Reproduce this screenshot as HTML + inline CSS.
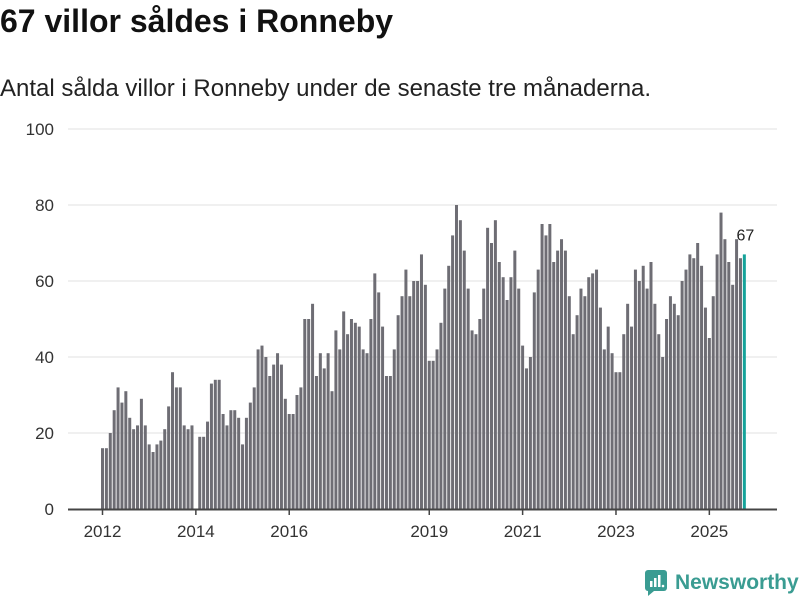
<!DOCTYPE html>
<html><head><meta charset="utf-8"><style>
body{margin:0;background:#fff;font-family:"Liberation Sans","DejaVu Sans",sans-serif;}
#wrap{position:relative;width:800px;height:600px;overflow:hidden}
h1{position:absolute;left:0;top:3px;margin:0;font-size:32px;font-weight:bold;color:#111}
.sub{position:absolute;left:0;top:75px;font-size:24px;color:#222}
</style></head><body>
<div id="wrap">
<h1>67 villor såldes i Ronneby</h1>
<div class="sub">Antal sålda villor i Ronneby under de senaste tre månaderna.</div>
<svg id="chart" width="800" height="600" style="position:absolute;left:0;top:0"></svg>
<div style="position:absolute;left:645px;top:570px;display:flex;align-items:center">
<svg width="22" height="26"><rect x="0" y="0" width="22" height="21" rx="3" fill="#3a9c92"/><polygon points="3,21 9,21 3,26" fill="#3a9c92"/><rect x="5" y="11" width="2.5" height="6" fill="#fff"/><rect x="9" y="8" width="2.5" height="9" fill="#fff"/><rect x="13" y="5" width="2.5" height="12" fill="#fff"/><circle cx="18" cy="16" r="1.3" fill="#fff"/></svg>
<span style="margin-left:8px;font-size:21px;color:#3a9c92;font-weight:bold">Newsworthy</span></div>
</div>
<script>
const startYear = 2012;
const values = [16,16,20,26,32,28,31,24,21,22,29,22,
17,15,17,18,21,27,36,32,32,22,21,22,
0,19,19,23,33,34,34,25,22,26,26,24,
17,24,28,32,42,43,40,35,38,41,38,29,
25,25,30,32,50,50,54,35,41,37,41,31,
47,42,52,46,50,49,48,42,41,50,62,57,
48,35,35,42,51,56,63,56,60,60,67,59,
39,39,42,49,58,64,72,80,76,68,58,47,
46,50,58,74,70,76,65,61,55,61,68,58,
43,37,40,57,63,75,72,75,65,68,71,68,
56,46,51,58,56,61,62,63,53,42,48,41,
36,36,46,54,48,63,60,64,58,65,54,46,
40,50,56,54,51,60,63,67,66,70,64,53,
45,56,67,78,71,65,59,71,66,67];
const yTicks = [0,20,40,60,80,100];
const xTickYears = [2012,2014,2016,2019,2021,2023,2025];
const NS="http://www.w3.org/2000/svg", svg=document.getElementById('chart');
const y0=509, yTop=129, x0=102.5, step=3.89;
const y=v=>y0-(v/100)*(y0-yTop);
const x=i=>x0+i*step;
function mk(t,a){const e=document.createElementNS(NS,t);for(const k in a)e.setAttribute(k,a[k]);svg.appendChild(e);return e;}
yTicks.forEach(v=>{
  if(v>0){const g=mk('line',{x1:68,x2:777,y1:y(v),y2:y(v),stroke:'#e2e2e2','stroke-width':1});
  
  }
  const t=mk('text',{x:54,y:y(v)+6,'text-anchor':'end','font-size':17,fill:'#333'});
  t.textContent=v;
  
  
});
values.forEach((v,i)=>{
  const last=i===values.length-1;
  const r=mk('rect',{x:x(i)-1.5,y:y(v),width:3,height:y0-y(v),fill:last?'#15a39a':'#6e6d74'});
  
  
  if(last){const t=mk('text',{x:x(i)+1,y:y(v)-14,'text-anchor':'middle','font-size':16,fill:'#222'});
  t.textContent=v;
  
  }
});
const ax=mk('line',{x1:68,x2:777,y1:y0+0.5,y2:y0+0.5,stroke:'#444','stroke-width':2});


xTickYears.forEach(yr=>{
  const xi=x((yr-startYear)*12);
  const l=mk('line',{x1:xi,x2:xi,y1:y0,y2:y0+6,stroke:'#444','stroke-width':1.5});
  
  
  const t=mk('text',{x:xi,y:537,'text-anchor':'middle','font-size':17,fill:'#333'});
  t.textContent=yr;
  
  
});
</script>
</body></html>
